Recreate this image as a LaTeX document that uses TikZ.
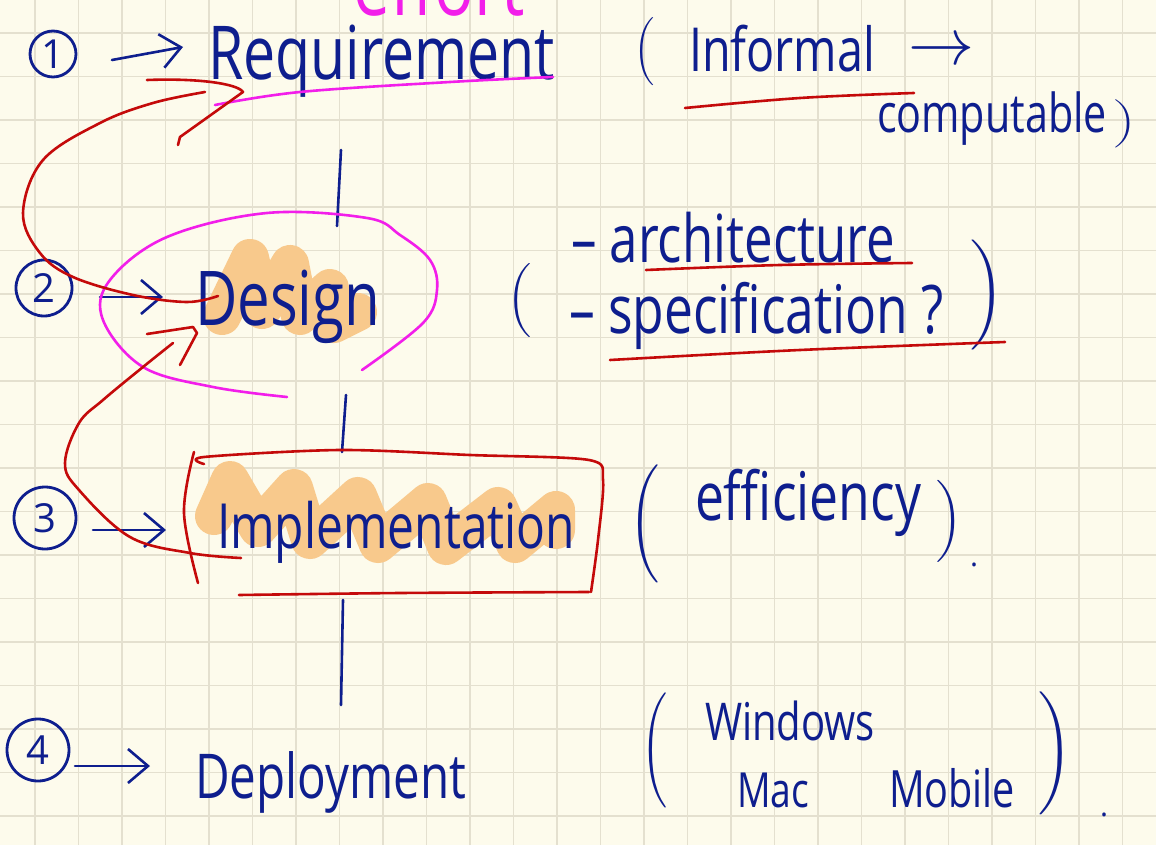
\documentclass[tikz,border=0pt]{standalone}
\usepackage{fontspec}
\setmainfont{Open Sans}
\usetikzlibrary{arrows.meta}
\definecolor{paper}{HTML}{FDFBEC}
\definecolor{gridc}{HTML}{E4E0CF}
\definecolor{ink}{HTML}{0E1E8E}
\definecolor{redink}{HTML}{C40A0A}
\definecolor{magink}{HTML}{F21EEA}
\definecolor{hilite}{HTML}{F8C98C}
\newcommand{\hwt}[2]{\resizebox{#1}{!}{\scalebox{1}[1.3]{#2}}}
\newcommand{\lpar}[2]{\resizebox*{#1}{#2}{$\Biggl($}}
\newcommand{\rpar}[2]{\resizebox*{#1}{#2}{$\Biggr)$}}
\begin{document}
\begin{tikzpicture}[x=1pt,y=-1pt,
  hw/.style={inner sep=0pt, outer sep=0pt, text=ink, anchor=base west},
  paren/.style={inner sep=0pt, outer sep=0pt, text=ink, anchor=north west},
  numc/.style={draw=ink, line width=2.8pt, circle, inner sep=0pt, text=ink, font=\fontsize{40}{40}\selectfont},
  bluepen/.style={draw=ink, line width=2.6pt, line cap=round, line join=round},
  redpen/.style={draw=redink, line width=2.6pt, line cap=round, line join=round},
  magpen/.style={draw=magink, line width=2.6pt, line cap=round, line join=round},
  hipen/.style={draw=hilite, line width=38pt, line cap=round, line join=round},
  chev/.style={-{Straight Barb[length=20pt,width=34pt]}}]
\fill[paper] (0,0) rectangle (1156,845);
\useasboundingbox (0,0) rectangle (1156,845);
\clip (0,0) rectangle (1156,845);
% grid
\foreach \i in {0,...,25} \draw[gridc, line width=1.2pt] ({35+43.5*\i},0) -- ({35+43.5*\i},845);
\foreach \j in {0,...,18} \draw[gridc, line width=1.2pt] (0,{33+43.5*\j}) -- (1156,{33+43.5*\j});

% highlights
\draw[hipen] (222,316) -- (250,258) -- (262,310) -- (290,264) -- (300,316) -- (330,288) -- (334,324) -- (358,312);
\draw[hipen] (214,516) -- (230,480) -- (258,528) -- (294,488) -- (310,540) -- (358,496) -- (378,544) -- (428,502) -- (446,546) -- (498,506) -- (515,544) -- (556,510) -- (556,530);

% magenta top text (cut off at the top edge as in the note)
\node[hw, text=magink] (eff) at (353,16) {\hwt{172pt}{effort}};

% row 1
\node[numc, minimum size=46pt] (n1) at (53,54) {1};
\coordinate (a1s) at (112,60); \coordinate (a1e) at (183,47);
\draw[bluepen, chev] (a1s) -- (a1e);
\node[hw] (req) at (208,80) {\hwt{347pt}{Requirement}};
\draw[magpen] plot[smooth, tension=0.6] coordinates {(215,105) (300,92) (450,82) (553,77)};
\node[paren] (lp1) at (634,18) {\lpar{20pt}{68pt}};
\node[hw] (inf) at (689,72) {\hwt{186pt}{Informal}};
\node[inner sep=0pt, text=ink] (arr) at (941,52) {\resizebox{66pt}{!}{$\rightarrow$}};
\node[hw] (comp) at (877,133) {\hwt{230pt}{computable}};
\node[paren] (rp1) at (1114,100) {\rpar{22pt}{48pt}};
\draw[redpen] plot[smooth, tension=0.6] coordinates {(685,108) (800,98) (914,93)};

% connector 1-2
\coordinate (v1a) at (341,150); \coordinate (v1b) at (337,226);
\draw[bluepen] (v1a) -- (v1b);

% row 2
\node[numc, minimum size=56pt] (n2) at (44,288) {2};
\coordinate (a2s) at (100,297); \coordinate (a2e) at (163,297);
\draw[bluepen, chev] (a2s) -- (a2e);
\node[hw] (des) at (195,325) {\hwt{185pt}{Design}};
\draw[magpen] plot[smooth, tension=0.6] coordinates {(287,397) (213,387) (143,367) (103,320) (110,280) (167,237) (267,213) (367,218) (400,235) (430,260) (437,290) (423,323) (362,370)};
\node[paren] (lp2) at (507,264) {\lpar{24pt}{74pt}};
\node[hw] (arch) at (571,262) {\hwt{324pt}{– architecture}};
\node[hw] (spec) at (569,333) {\hwt{375pt}{– specification ?}};
\node[paren] (rp2) at (970,240) {\rpar{34pt}{110pt}};
\draw[redpen] plot[smooth, tension=0.6] coordinates {(646,270) (780,265) (912,263)};
\draw[redpen] plot[smooth, tension=0.6] coordinates {(610,360) (800,350) (1005,342)};

% connector 2-3
\coordinate (v2a) at (346,395); \coordinate (v2b) at (342,452);
\draw[bluepen] (v2a) -- (v2b);

% row 3
\node[numc, minimum size=62pt] (n3) at (45,518) {3};
\coordinate (a3s) at (93,530); \coordinate (a3e) at (166,530);
\draw[bluepen, chev] (a3s) -- (a3e);
\node[hw] (impl) at (217,548) {\hwt{358pt}{Implementation}};
\draw[redpen] plot[smooth, tension=0.6] coordinates {(194,452) (184,513) (198,583)};
\draw[redpen] plot[smooth, tension=0.5] coordinates {(204,464) (204,457) (340,450) (470,455) (589,460) (603,480) (598,540) (591,592)};
\draw[redpen] plot[smooth, tension=0.5] coordinates {(239,595) (400,593) (589,592)};
\node[paren] (lp3) at (629,465) {\lpar{30pt}{118pt}};
\node[hw] (effi) at (695,520) {\hwt{226pt}{efficiency}};
\node[paren] (rp3) at (936,480) {\rpar{26pt}{82pt}};
\node[hw] (dot3) at (970,566) {\resizebox{8pt}{!}{.}};

% connector 3-4
\coordinate (v3a) at (343,600); \coordinate (v3b) at (341,705);
\draw[bluepen] (v3a) -- (v3b);

% row 4
\node[numc, minimum size=62pt] (n4) at (38,750) {4};
\coordinate (a4s) at (75,766); \coordinate (a4e) at (150,766);
\draw[bluepen, chev] (a4s) -- (a4e);
\node[hw] (dep) at (195,798) {\hwt{271pt}{Deployment}};
\node[paren] (lp4) at (641,693) {\lpar{26pt}{115pt}};
\node[hw] (win) at (705,740) {\hwt{170pt}{Windows}};
\node[hw] (mac) at (737,807) {\hwt{72pt}{Mac}};
\node[hw] (mob) at (889,807) {\hwt{126pt}{Mobile}};
\node[paren] (rp4) at (1038,692) {\rpar{34pt}{123pt}};
\node[hw] (dot4) at (1100,816) {\resizebox{8pt}{!}{.}};

% red feedback arrows
\draw[redpen] plot[smooth, tension=0.6] coordinates {(218,296) (187,302) (133,295) (73,277) (40,253) (23,213) (43,160) (100,123) (153,103) (205,92)};
\draw[redpen] (147,80) .. controls (200,78) and (238,84) .. (243,92) -- (180,137) -- (178,145);
\draw[redpen] plot[smooth, tension=0.6] coordinates {(241,558) (190,553) (130,537) (79,490) (65,463) (79,423) (103,400) (143,367) (173,343)};
\draw[redpen] (147,334) -- (193,327) -- (197,333) -- (180,365);
\end{tikzpicture}
\end{document}
